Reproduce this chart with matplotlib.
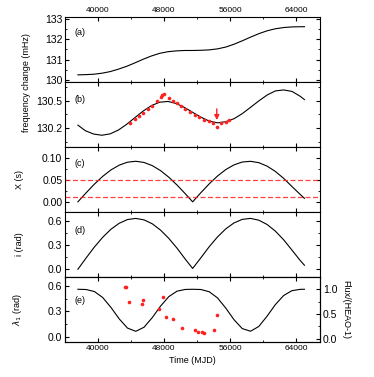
import matplotlib
matplotlib.use('Agg')
import matplotlib.pyplot as plt
from matplotlib.ticker import MultipleLocator

plt.rcParams['font.family'] = ['Liberation Sans', 'DejaVu Sans']
plt.rcParams['font.size'] = 6

# (a) frequency change
t_a = [37600, 38500, 39500, 40500, 41500, 42500, 43500, 44500, 45500, 46500, 47500,
       48500, 49500, 50500, 51500, 52500, 53500, 54500, 55500, 56500, 57500, 58500,
       59500, 60500, 61500, 62500, 63500, 64500, 65000]
f_a = [130.25, 130.26, 130.28, 130.33, 130.41, 130.53, 130.67, 130.84, 131.02, 131.18, 131.31,
       131.39, 131.43, 131.45, 131.45, 131.46, 131.48, 131.53, 131.62, 131.76, 131.93, 132.11,
       132.28, 132.42, 132.52, 132.58, 132.61, 132.62, 132.62]

# (b) model curve + data
t_b = [37600, 38500, 39500, 40500, 41500, 42500, 43500, 44500, 45500, 46500, 47500,
       48500, 49500, 50500, 51500, 52500, 53500, 54500, 55500, 56500, 57500, 58500,
       59500, 60500, 61500, 62500, 63500, 64500, 65000]
f_b = [130.235, 130.175, 130.139, 130.126, 130.141, 130.182, 130.244, 130.316, 130.387, 130.446, 130.482,
       130.490, 130.468, 130.425, 130.372, 130.320, 130.278, 130.260, 130.272, 130.305, 130.360, 130.428,
       130.497, 130.560, 130.604, 130.614, 130.598, 130.545, 130.51]
t_b_obs = [43905, 44510, 44993, 45510, 46040, 46560, 47130, 47610, 47810, 47980, 48580,
           49060, 49550, 50100, 50590, 51160, 51720, 52280, 52850, 53410, 53930, 54380,
           54900, 55470, 55900]
f_b_obs = [130.254, 130.298, 130.330, 130.370, 130.406, 130.446, 130.497, 130.537, 130.555, 130.566, 130.522,
           130.500, 130.475, 130.439, 130.410, 130.377, 130.345, 130.319, 130.290, 130.276, 130.258, 130.218,
           130.258, 130.272, 130.290]

# (c), (d), (e) curves
t_cde = [37600, 38600, 39600, 40600, 41600, 42600, 43600, 44600, 45600, 46600, 47600,
         48600, 49600, 50600, 51480, 52480, 53480, 54480, 55480, 56480, 57480, 58480,
         59480, 60480, 61480, 62480, 63480, 64480, 65000]
x_c = [0.0, 0.0207, 0.0404, 0.0580, 0.0727, 0.0836, 0.0903, 0.0924, 0.0897, 0.0825, 0.0711,
       0.0560, 0.0381, 0.0182, 0.0, 0.0210, 0.0409, 0.0587, 0.0734, 0.0842, 0.0907, 0.0923,
       0.0892, 0.0814, 0.0693, 0.0536, 0.0351, 0.0170, 0.008]
i_d = [0.0, 0.141, 0.276, 0.396, 0.496, 0.570, 0.616, 0.630, 0.612, 0.563, 0.485,
       0.382, 0.260, 0.124, 0.01, 0.143, 0.279, 0.400, 0.500, 0.574, 0.618, 0.630,
       0.608, 0.555, 0.473, 0.366, 0.239, 0.110, 0.05]
lam_e = [0.560, 0.557, 0.533, 0.463, 0.346, 0.211, 0.103, 0.065, 0.113, 0.227, 0.362,
         0.474, 0.538, 0.558, 0.560, 0.557, 0.531, 0.459, 0.339, 0.202, 0.097, 0.066,
         0.122, 0.243, 0.379, 0.486, 0.543, 0.559, 0.560]
c_lines = [0.05, 0.01]

# flux (HEAO-1 units)
t_flux = [43340, 43460, 43820, 45320, 45510, 47890, 47370, 48220, 49140, 50190,
          51720, 52090, 52640, 52810, 54020, 54450]
flux = [1.045, 1.05, 0.749, 0.703, 0.789, 0.834, 0.591, 0.433, 0.407, 0.229,
        0.182, 0.142, 0.142, 0.117, 0.182, 0.478]

red = '#ff2020'
fig, axs = plt.subplots(5, 1, figsize=(3.74, 3.77), dpi=100, sharex=True)
fig.subplots_adjust(left=0.174, right=0.856, top=0.955, bottom=0.093, hspace=0)

axs[0].plot(t_a, f_a, color='black', lw=0.8)
axs[0].set_ylim(129.9, 133.1)
axs[0].yaxis.set_major_locator(MultipleLocator(1))
axs[0].yaxis.set_minor_locator(MultipleLocator(0.5))

axs[1].plot(t_b, f_b, color='black', lw=0.8)
axs[1].plot(t_b_obs, f_b_obs, 'o', color=red, ms=2.6, mec='none')
axs[1].annotate('', xy=(54400, 130.29), xytext=(54400, 130.41),
                arrowprops=dict(arrowstyle='-|>', color=red, lw=1, mutation_scale=7,
                                shrinkA=0, shrinkB=0))
axs[1].set_ylim(130.0, 130.7)
axs[1].set_yticks([130.2, 130.5])
axs[1].set_yticks([130.05, 130.35, 130.65], minor=True)

axs[2].plot(t_cde, x_c, color='black', lw=0.8)
for v in c_lines:
    axs[2].axhline(v, color=red, ls=(0, (4, 2)), lw=0.9, alpha=0.85)
axs[2].set_ylim(-0.023, 0.125)
axs[2].yaxis.set_major_locator(MultipleLocator(0.05))
axs[2].yaxis.set_minor_locator(MultipleLocator(0.025))
axs[2].yaxis.set_major_formatter(matplotlib.ticker.FormatStrFormatter('%.2f'))

axs[3].plot(t_cde, i_d, color='black', lw=0.8)
axs[3].set_ylim(-0.095, 0.71)
axs[3].yaxis.set_major_locator(MultipleLocator(0.3))
axs[3].yaxis.set_minor_locator(MultipleLocator(0.15))
axs[3].yaxis.set_major_formatter(matplotlib.ticker.FormatStrFormatter('%.1f'))

axs[4].plot(t_cde, lam_e, color='black', lw=0.8)
axs[4].set_ylim(-0.06, 0.705)
axs[4].yaxis.set_major_locator(MultipleLocator(0.3))
axs[4].yaxis.set_minor_locator(MultipleLocator(0.15))
axs[4].yaxis.set_major_formatter(matplotlib.ticker.FormatStrFormatter('%.1f'))
ax_r = axs[4].twinx()
ax_r.plot(t_flux, flux, 'o', color=red, ms=2.6, mec='none')
ax_r.set_ylim(-0.06, 1.243)
ax_r.yaxis.set_major_locator(MultipleLocator(0.5))
ax_r.yaxis.set_minor_locator(MultipleLocator(0.25))
ax_r.yaxis.set_major_formatter(matplotlib.ticker.FormatStrFormatter('%.1f'))
ax_r.tick_params(axis='y', which='both', direction='in', labelsize=7.5, pad=2)
ax_r.tick_params(axis='y', which='major', length=3)
ax_r.tick_params(axis='y', which='minor', length=1.5)
ax_r.set_ylabel('Flux/(HEAO-1)', rotation=270, fontsize=6.5, labelpad=9)

panel_y = [0.76, 0.73, 0.75, 0.72, 0.64]
for ax, lab, py in zip(axs, ['(a)', '(b)', '(c)', '(d)', '(e)'], panel_y):
    ax.text(0.035, py, lab, transform=ax.transAxes, fontsize=6.5, va='center')
    ax.set_xlim(36050, 66900)
    ax.xaxis.set_major_locator(MultipleLocator(8000))
    ax.xaxis.set_minor_locator(MultipleLocator(4000))
    ax.tick_params(which='both', direction='in', top=True, labelsize=6, pad=2)
    ax.tick_params(axis='y', labelsize=7.5)
    ax.tick_params(which='major', length=3)
    ax.tick_params(which='minor', length=1.5)
    ax.yaxis.set_tick_params(which='both', right=(ax is not axs[4]))
    for s in ax.spines.values():
        s.set_linewidth(0.8)
ax_r.spines['right'].set_linewidth(0.8)

axs[0].tick_params(axis='x', labeltop=True)
axs[4].set_xlabel('Time (MJD)', fontsize=6.5, labelpad=3)

for ax, lab in zip(axs[2:], ['X (s)', 'i (rad)', r'$\lambda_1$ (rad)']):
    ax.set_ylabel(lab, fontsize=6.5)
    ax.yaxis.set_label_coords(-0.16, 0.5)
fig.text(0.07, 0.78, 'frequency change (mHz)', rotation=90, fontsize=6.5,
         ha='center', va='center')

plt.savefig('out.png', dpi=100)
